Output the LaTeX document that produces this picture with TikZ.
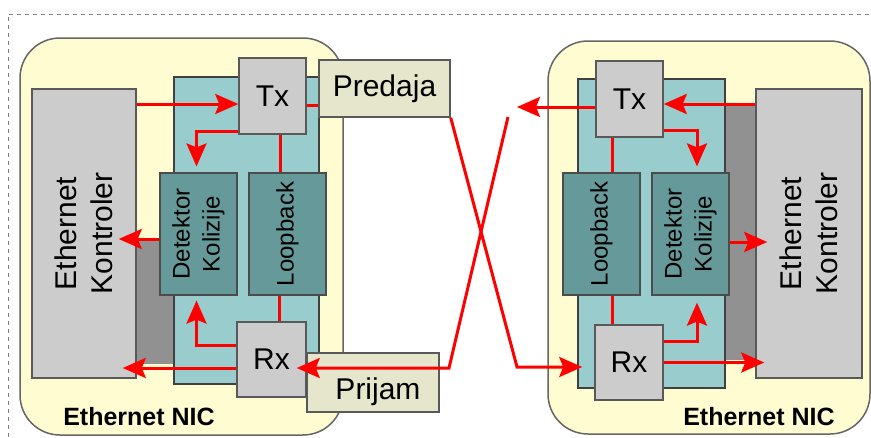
\documentclass[tikz,border=0pt]{standalone}
\usepackage{fontspec}
\setmainfont{Liberation Sans}
\usetikzlibrary{arrows.meta}

\definecolor{nicyellow}{RGB}{255,252,210}
\definecolor{panelteal}{RGB}{153,204,204}
\definecolor{darkteal}{RGB}{102,153,153}
\definecolor{boxgray}{RGB}{204,204,204}
\definecolor{shadowgray}{RGB}{145,145,145}
\definecolor{beige}{RGB}{230,230,204}

\begin{document}
\begin{tikzpicture}[x=1pt,y=-1pt,
  big/.style={font=\fontsize{30}{36}\selectfont},
  mid/.style={font=\fontsize{24}{30}\selectfont},
  wire/.style={red,line width=3pt},
  arr/.style={wire,-{Stealth[length=23pt,width=20pt,inset=4pt]}},
  nic/.style={draw=black!60,line width=1.5pt,fill=nicyellow,rounded corners=40pt},
  panel/.style={draw=black!75,line width=1.2pt,fill=panelteal},
  graybox/.style={draw=black!65,line width=1.5pt,fill=boxgray,inner sep=0pt,big},
  tealbox/.style={draw=black!70,line width=1.2pt,fill=darkteal,inner sep=0pt,mid,align=center,rotate=90},
  tagbox/.style={draw=black!65,line width=1.5pt,fill=beige,inner sep=0pt,big},
  niclbl/.style={font=\fontsize{25}{28}\selectfont\bfseries}]
  \useasboundingbox (0,0) rectangle (871,437);
  \draw[black!50,line width=0.8pt,dash pattern=on 4pt off 4pt] (8,437) -- (8,14) -- (871,14);

  % dva NIC-a
  \draw[nic] (20,38) rectangle (343,435);
  \draw[nic] (548,41) rectangle (870,434);
  \fill[shadowgray] (136,240) rectangle (174,364);
  \fill[shadowgray] (725,103) rectangle (756,360);
  \draw[panel] (174,77) rectangle (319,384);
  \draw[panel] (578,79) rectangle (725,388);

  % lijevo (okrenuti cvorovi: north = lijevo, east = gore)
  \node[graybox,rotate=90,align=center,minimum width=289,minimum height=104] (lKon) at (84,233.5) {Ethernet\\Kontroler};
  \node[graybox,minimum width=67,minimum height=76] (lTx) at (272.5,96) {Tx};
  \node[graybox,minimum width=69,minimum height=75] (lRx) at (271.5,359.5) {Rx};
  \node[tealbox,minimum width=122,minimum height=77] (lDet) at (198.5,234) {Detektor\\Kolizije};
  \node[tealbox,minimum width=122,minimum height=77] (lLoop) at (287.5,234) {Loopback};
  \node[tagbox,minimum width=131,minimum height=57] (predaja) at (384.5,88.5) {Predaja};
  \node[tagbox,minimum width=132,minimum height=59] (prijam) at (373,382.5) {};
  \node[big] (prijamTxt) at (378,392) {Prijam};

  % desno
  \node[graybox,rotate=90,align=center,minimum width=289,minimum height=106] (rKon) at (809,233.5) {Ethernet\\Kontroler};
  \node[graybox,minimum width=67,minimum height=76] (rTx) at (629.5,99) {Tx};
  \node[graybox,minimum width=68,minimum height=75] (rRx) at (629,362.5) {Rx};
  \node[tealbox,minimum width=122,minimum height=77] (rLoop) at (601.5,234) {Loopback};
  \node[tealbox,minimum width=122,minimum height=77] (rDet) at (690.5,234) {Detektor\\Kolizije};

  % veze lijevo
  \draw[arr] ([yshift=-8pt]lTx.west -| lKon.south) -- ([yshift=-8pt]lTx.west);
  \draw[arr,shorten >=6pt] ([yshift=-35pt]lTx.west) -| ([xshift=-2pt]lDet.east);
  \draw[arr,shorten >=-18pt] ([yshift=-5pt]lDet.north) -- ([yshift=-5pt]lDet.north -| lKon.south);
  \draw[arr,shorten >=5pt] ([yshift=14.5pt]lRx.west) -| ([xshift=-2pt]lDet.west);
  \draw[arr,shorten >=-14pt] ([yshift=-8.5pt]lRx.west) -- ([yshift=-8.5pt]lRx.west -| lKon.south);
  \draw[wire] ([xshift=7.5pt]lTx.south) -- ([xshift=7.5pt]lTx.south |- lLoop.east);
  \draw[wire] ([xshift=7.5pt]lRx.north) -- ([xshift=7.5pt]lRx.north |- lLoop.west);
  \draw[wire] ([yshift=-9pt]lTx.east) -- ([yshift=-9pt]lTx.east -| predaja.west);

  % veze desno
  \coordinate (rOut) at (517,107);
  \draw[arr] ([yshift=-5pt]rTx.east -| rKon.north) -- ([yshift=-5pt]rTx.east);
  \draw[arr,shorten >=6pt] ([yshift=-31pt]rTx.east) -| ([xshift=6.5pt]rDet.east);
  \draw[arr,shorten >=-12pt] ([yshift=-8pt]rDet.south) -- ([yshift=-8pt]rDet.south -| rKon.north);
  \draw[arr,shorten >=7pt] ([yshift=21.5pt]rRx.east) -| ([xshift=6.5pt]rDet.west);
  \draw[arr,shorten >=-9pt] (rRx.east) -- (rRx.east -| rKon.north);
  \draw[arr] (rTx.west |- rOut) -- (rOut);
  \draw[wire] ([xshift=-17.5pt]rTx.south) -- ([xshift=-17.5pt]rTx.south |- rLoop.east);
  \draw[wire] ([xshift=-17pt]rRx.north) -- ([xshift=-17pt]rRx.north |- rLoop.west);

  % ukrsteni kabel
  \coordinate (xa) at (517,367);
  \coordinate (xb) at (449,368);
  \coordinate (xc) at (508,117);
  \draw[arr,shorten >=12pt] (predaja.south east) -- (xa) -- (xa -| rRx.west);
  \draw[arr,shorten >=-10pt] (xc) -- (xb) -- (xb -| lRx.east);

  \node[niclbl] (lNic) at (139,417) {Ethernet NIC};
  \node[niclbl] (rNic) at (759,417) {Ethernet NIC};
\end{tikzpicture}
\end{document}
